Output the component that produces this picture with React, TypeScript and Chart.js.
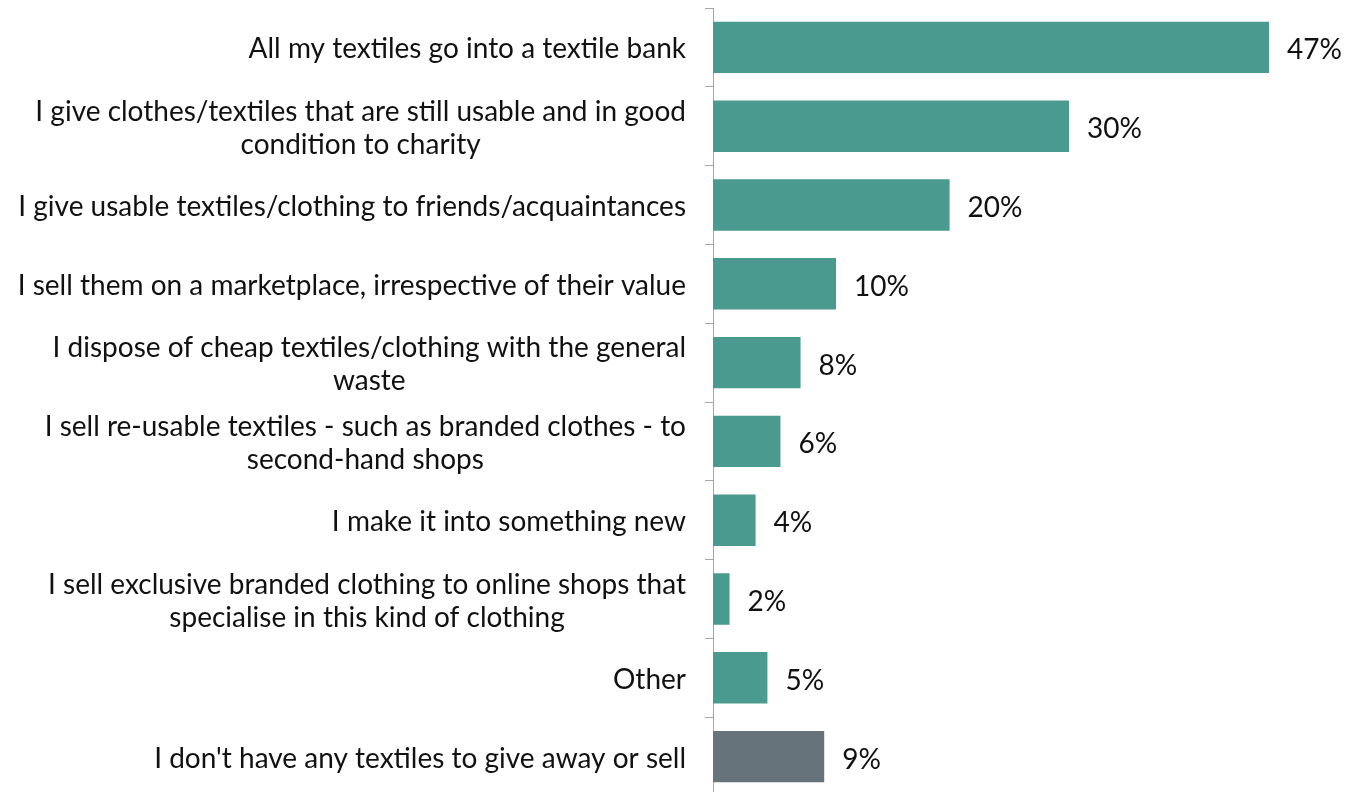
import React, { useEffect, useRef } from "react";
import { Chart, registerables } from "chart.js";

Chart.register(...registerables);

const categories: string[][] = [
  ["All my textiles go into a textile bank"],
  ["I give clothes/textiles that are still usable and in good", "condition to charity"],
  ["I give usable textiles/clothing to friends/acquaintances"],
  ["I sell them on a marketplace, irrespective of their value"],
  ["I dispose of cheap textiles/clothing with the general", "waste"],
  ["I sell re-usable textiles - such as branded clothes - to", "second-hand shops"],
  ["I make it into something new"],
  ["I sell exclusive branded clothing to online shops that", "specialise in this kind of clothing"],
  ["Other"],
  ["I don't have any textiles to give away or sell"],
];

const barValues: number[] = [47, 30.1, 20.0, 10.4, 7.4, 5.7, 3.6, 1.4, 4.6, 9.4];
const valueLabels: string[] = ["47%", "30%", "20%", "10%", "8%", "6%", "4%", "2%", "5%", "9%"];

const TEAL = "#4a9a8f";
const GRAY = "#67737a";
const barColors: string[] = [TEAL, TEAL, TEAL, TEAL, TEAL, TEAL, TEAL, TEAL, TEAL, GRAY];

const FONT = "Lato, 'Open Sans', sans-serif";

const labelPlugin = {
  id: "customLabels",
  afterDatasetsDraw(chart: any) {
    const ctx = chart.ctx as CanvasRenderingContext2D;
    const yScale = chart.scales.y;
    const meta = chart.getDatasetMeta(0);
    ctx.save();
    ctx.font = `28px ${FONT}`;
    ctx.fillStyle = "#111111";
    ctx.textBaseline = "middle";
    const dy = 2;
    // category labels: block right-aligned, lines centred within block
    const rightEdge = yScale.right - 27;
    const lineH = 33;
    categories.forEach((lines, i) => {
      const y = yScale.getPixelForValue(i) + dy;
      const widest = Math.max(...lines.map((l) => ctx.measureText(l).width));
      const cx = rightEdge - widest / 2;
      ctx.textAlign = "center";
      const startY = y - ((lines.length - 1) * lineH) / 2;
      lines.forEach((l, j) => ctx.fillText(l, cx, startY + j * lineH));
    });
    // value labels
    ctx.textAlign = "left";
    meta.data.forEach((bar: any, i: number) => {
      ctx.fillText(valueLabels[i], bar.x + 18, bar.y + dy + 1);
    });
    ctx.restore();
  },
};

export default function App() {
  const canvasRef = useRef<HTMLCanvasElement | null>(null);

  useEffect(() => {
    if (!canvasRef.current) return;
    const chart = new Chart(canvasRef.current, {
      type: "bar",
      data: {
        labels: categories.map((c) => c.join(" ")),
        datasets: [
          {
            data: barValues,
            backgroundColor: barColors,
            borderWidth: 0,
            barPercentage: 0.652,
            categoryPercentage: 1,
          },
        ],
      },
      options: {
        indexAxis: "y",
        responsive: false,
        maintainAspectRatio: false,
        animation: false,
        layout: { padding: { top: 8, bottom: 4, left: 0, right: 5 } },
        plugins: {
          legend: { display: false },
          tooltip: { enabled: false },
        },
        scales: {
          x: { display: false, min: 0, max: 53 },
          y: {
            grid: {
              drawOnChartArea: false,
              drawTicks: true,
              tickLength: 8,
              color: "#a0a8ad",
              offset: true,
            },
            border: { display: true, color: "#a0a8ad", width: 1 },
            ticks: { display: false },
            afterFit: (scale: any) => {
              scale.width = 713;
            },
          },
        },
      },
      plugins: [labelPlugin],
    } as any);
    return () => chart.destroy();
  }, []);

  return (
    <div
      style={{
        position: "fixed",
        left: 0,
        top: 0,
        width: 1345,
        height: 792,
        overflow: "hidden",
        background: "#ffffff",
      }}
    >
      <canvas ref={canvasRef} width={1345} height={800} style={{ display: "block" }} />
    </div>
  );
}
